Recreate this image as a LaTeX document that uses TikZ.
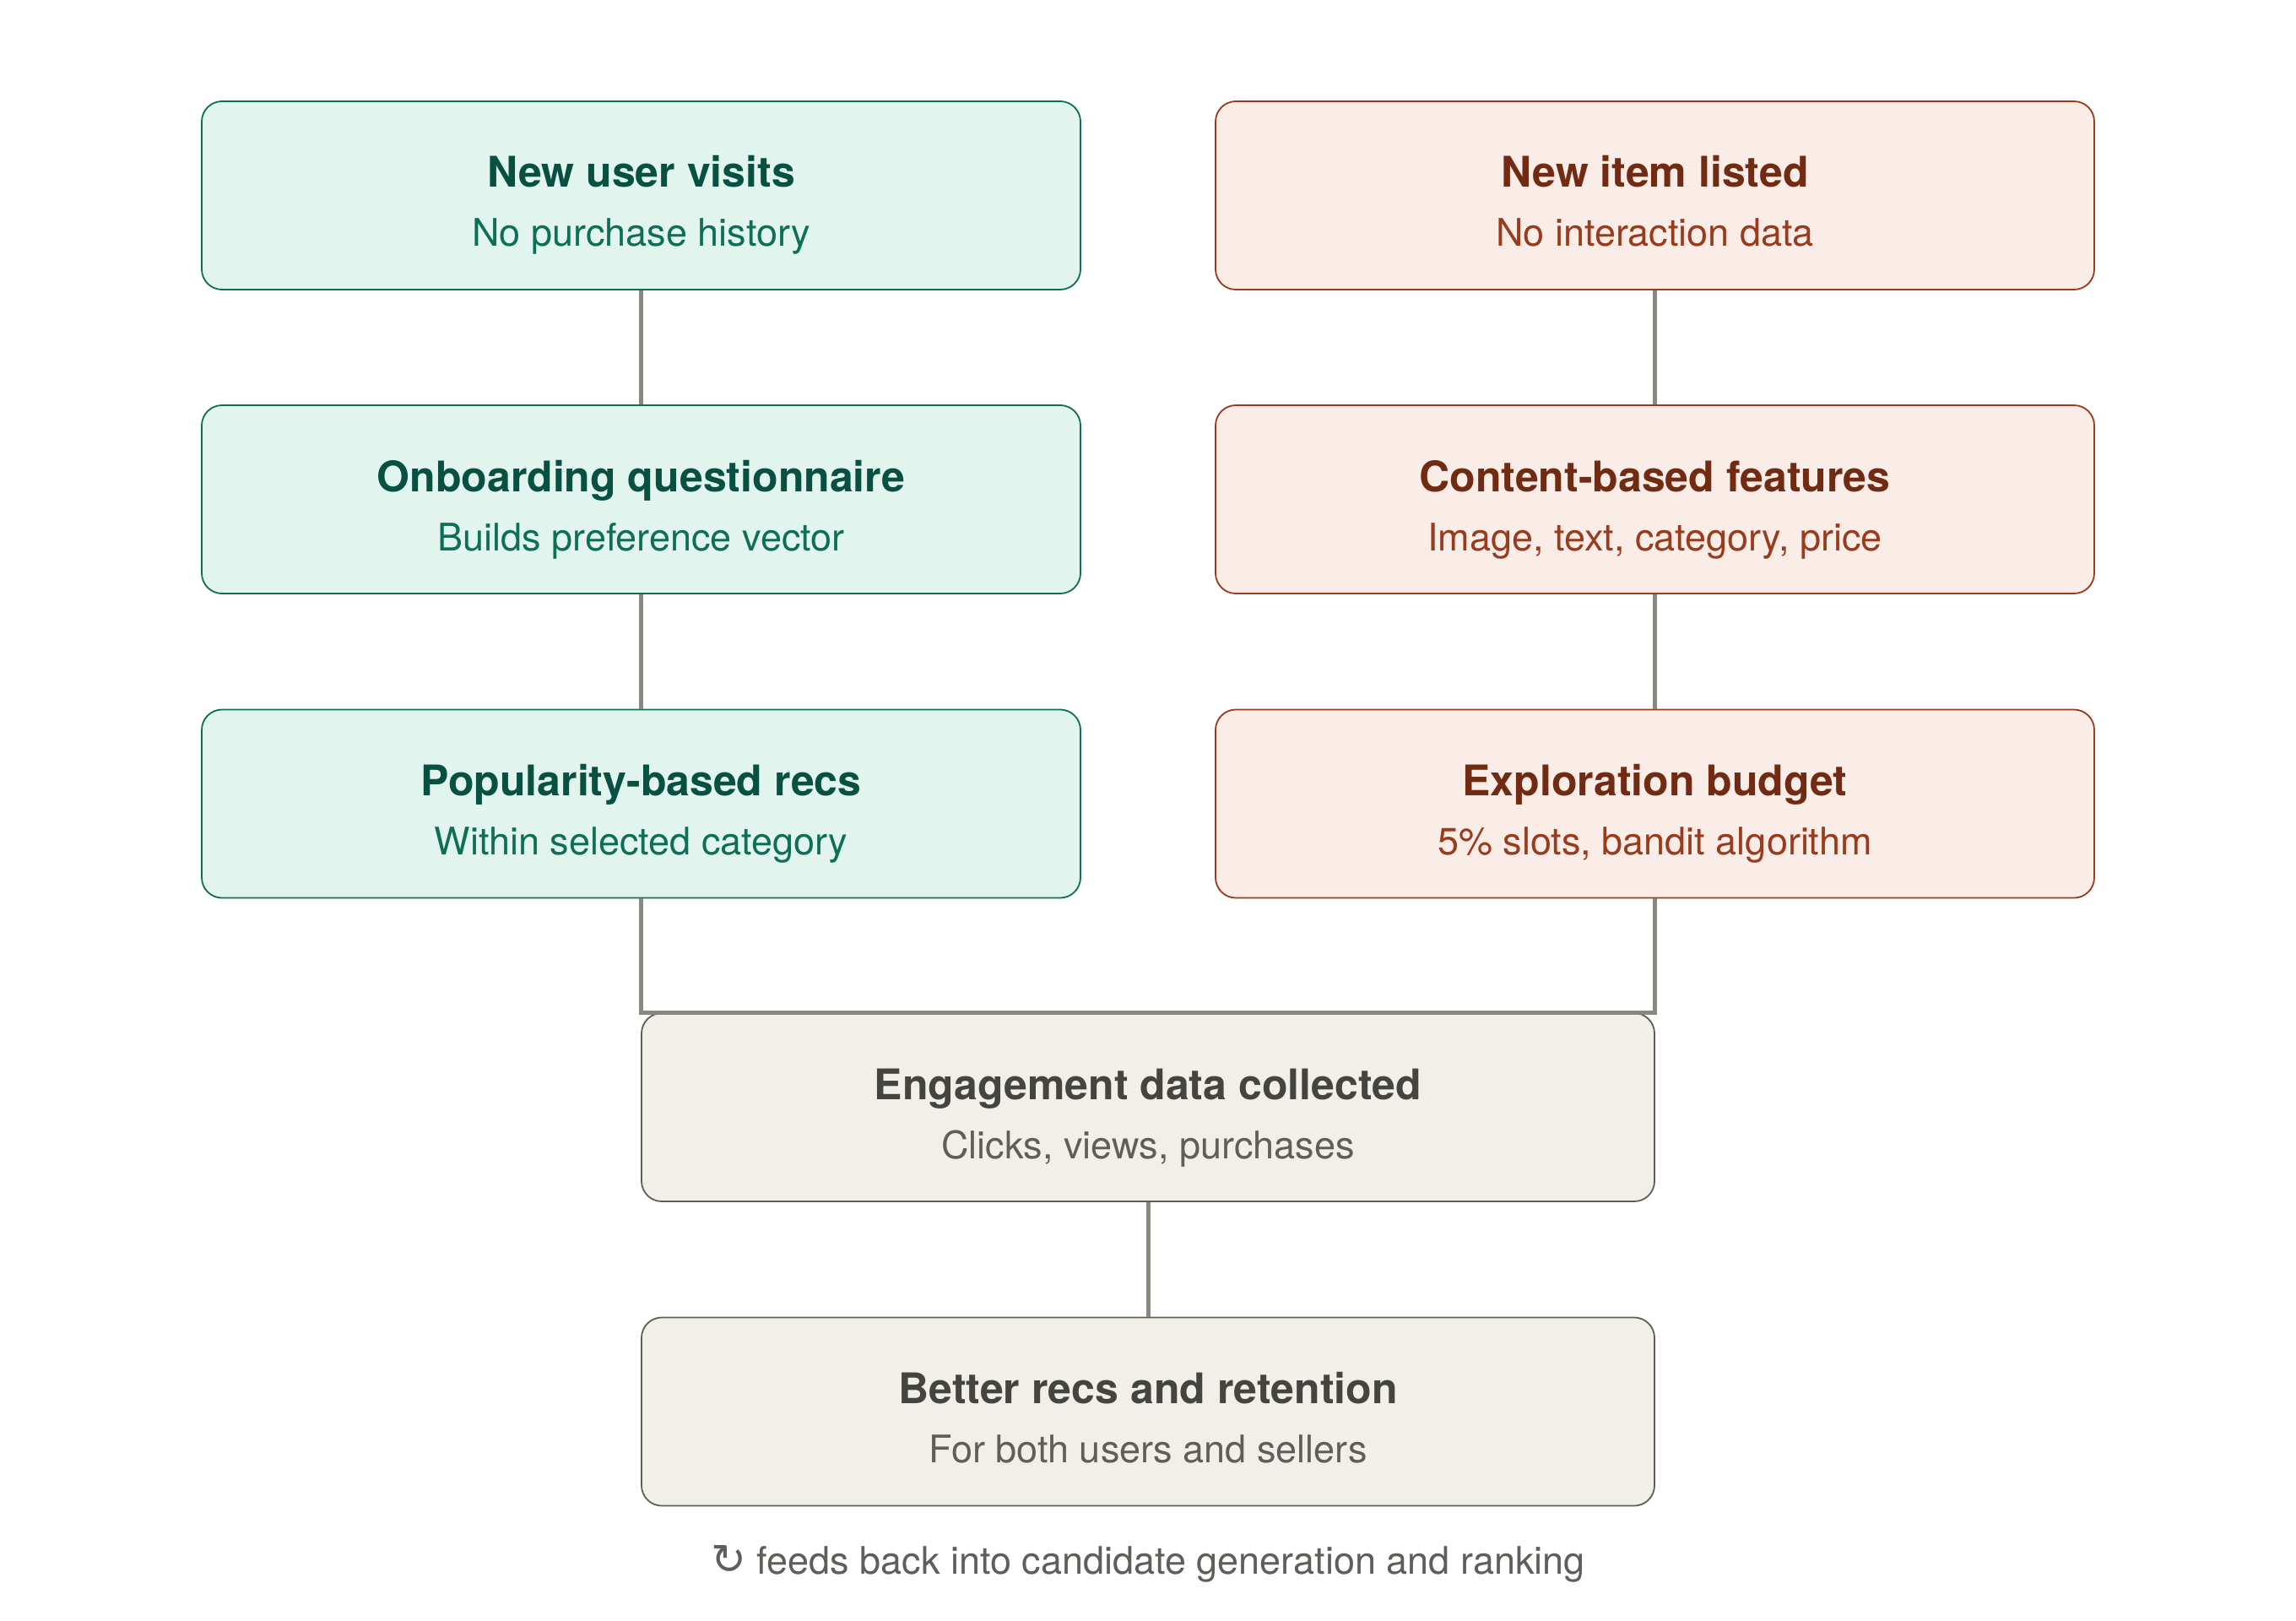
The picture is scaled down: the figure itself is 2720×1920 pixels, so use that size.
\documentclass[tikz,border=0pt]{standalone}
\usepackage{fontspec}
\setmainfont{TeX Gyre Heros}
\newfontfamily\symfont{DejaVu Sans}
\definecolor{gfill}{HTML}{E1F5EE}
\definecolor{gline}{HTML}{0F6E56}
\definecolor{gtitle}{HTML}{085041}
\definecolor{gsub}{HTML}{0F6E56}
\definecolor{rfill}{HTML}{FAECE7}
\definecolor{rline}{HTML}{993C1D}
\definecolor{rtitle}{HTML}{712B13}
\definecolor{rsub}{HTML}{993C1D}
\definecolor{nfill}{HTML}{F1EFE8}
\definecolor{nline}{HTML}{5F5E5A}
\definecolor{ntitle}{HTML}{444441}
\definecolor{nsub}{HTML}{5F5E5A}
\definecolor{conn}{HTML}{888780}
\tikzset{
  box/.style={rectangle, rounded corners=12pt, line width=0.9pt, minimum height=111.5pt, inner sep=0pt},
  wide/.style={box, minimum width=520.5pt},
  mid/.style={box, minimum width=600pt},
  gbox/.style={wide, draw=gline, fill=gfill},
  rbox/.style={wide, draw=rline, fill=rfill},
  nbox/.style={mid, draw=nline, fill=nfill},
  ttl/.style={anchor=base, inner sep=0pt, font=\fontsize{25}{30}\selectfont\bfseries},
  sub/.style={anchor=base, inner sep=0pt, font=\fontsize{22.5}{27}\selectfont},
  link/.style={draw=conn, line width=2.5pt},
}
\begin{document}
\begin{tikzpicture}[x=0.5pt, y=-0.5pt]
\fill[white] (0,0) rectangle (2720,1920);
\useasboundingbox (0,0) rectangle (2720,1920);

% left column
\node[gbox] (a1) at (759.5,231.5) {};
\node[gbox] (a2) at (759.5,591.5) {};
\node[gbox] (a3) at (759.5,952) {};
% right column
\node[rbox] (b1) at (1960.5,231.5) {};
\node[rbox] (b2) at (1960.5,591.5) {};
\node[rbox] (b3) at (1960.5,952) {};
% bottom
\node[nbox] (c1) at (1360,1311.5) {};
\node[nbox] (c2) at (1360,1672) {};

% texts
\node[ttl, text=gtitle] (a1t) at ([yshift=4.75pt]a1.center) {New user visits};
\node[sub, text=gsub]   (a1s) at ([yshift=-30.25pt]a1.center) {No purchase history};
\node[ttl, text=gtitle] (a2t) at ([yshift=4.75pt]a2.center) {Onboarding questionnaire};
\node[sub, text=gsub]   (a2s) at ([yshift=-30.25pt]a2.center) {Builds preference vector};
\node[ttl, text=gtitle] (a3t) at ([yshift=4.75pt]a3.center) {Popularity-based recs};
\node[sub, text=gsub]   (a3s) at ([yshift=-30.25pt]a3.center) {Within selected category};

\node[ttl, text=rtitle] (b1t) at ([yshift=4.75pt]b1.center) {New item listed};
\node[sub, text=rsub]   (b1s) at ([yshift=-30.25pt]b1.center) {No interaction data};
\node[ttl, text=rtitle] (b2t) at ([yshift=4.75pt]b2.center) {Content-based features};
\node[sub, text=rsub]   (b2s) at ([yshift=-30.25pt]b2.center) {Image, text, category, price};
\node[ttl, text=rtitle] (b3t) at ([yshift=4.75pt]b3.center) {Exploration budget};
\node[sub, text=rsub]   (b3s) at ([yshift=-30.25pt]b3.center) {5\% slots, bandit algorithm};

\node[ttl, text=ntitle] (c1t) at ([yshift=4.75pt]c1.center) {Engagement data collected};
\node[sub, text=nsub]   (c1s) at ([yshift=-30.25pt]c1.center) {Clicks, views, purchases};
\node[ttl, text=ntitle] (c2t) at ([yshift=4.75pt]c2.center) {Better recs and retention};
\node[sub, text=nsub]   (c2s) at ([yshift=-30.25pt]c2.center) {For both users and sellers};

\node[sub, text=nsub] (foot) at (1360,1864) {{\symfont\fontsize{25}{30}\selectfont ↻} feeds back into candidate generation and ranking};

% connectors
\draw[link] (a1.south) -- (a2.north);
\draw[link] (a2.south) -- (a3.north);
\draw[link] (b1.south) -- (b2.north);
\draw[link] (b2.south) -- (b3.north);
\draw[link] (a3.south) -- (a3.south |- c1.north) -- (b3.south |- c1.north) -- (b3.south);
\draw[link] (c1.south) -- (c2.north);
\end{tikzpicture}
\end{document}
